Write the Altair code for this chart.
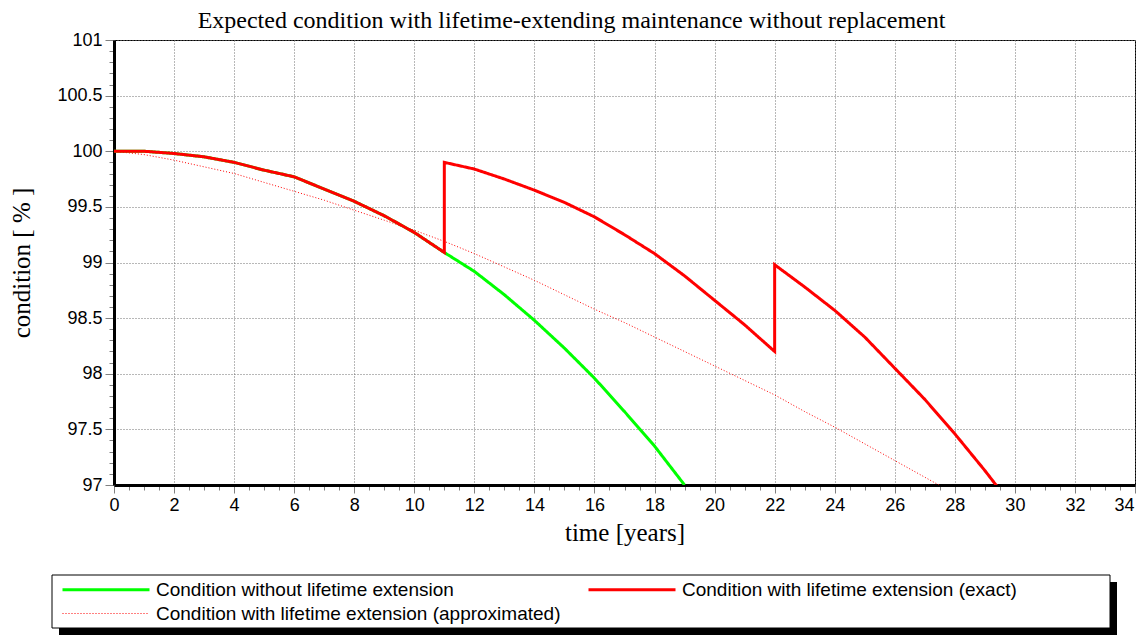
import altair as alt
import pandas as pd

S_WITHOUT = "Condition without lifetime extension"
S_EXACT = "Condition with lifetime extension (exact)"
S_APPROX = "Condition with lifetime extension (approximated)"

years_without = [0, 1, 2, 3, 4, 5, 6, 7, 8, 9, 10, 11, 12, 13, 14, 15, 16, 17, 18, 19]
cond_without = [100.0, 100.0, 99.98, 99.95, 99.90, 99.83, 99.77, 99.66, 99.55, 99.42,
                99.27, 99.09, 98.92, 98.71, 98.48, 98.23, 97.96, 97.66, 97.35, 97.00]

years_exact = [0, 1, 2, 3, 4, 5, 6, 7, 8, 9, 10, 11, 11, 12, 13, 14, 15, 16, 17, 18, 19,
               20, 21, 22, 22, 23, 24, 25, 26, 27, 28, 29, 30]
cond_exact = [100.0, 100.0, 99.98, 99.95, 99.90, 99.83, 99.77, 99.66, 99.55, 99.42, 99.27,
              99.09, 99.90, 99.84, 99.75, 99.65, 99.54, 99.41, 99.25, 99.08, 98.88,
              98.66, 98.44, 98.20, 98.98, 98.78, 98.57, 98.33, 98.05, 97.77, 97.46, 97.13, 96.78]

years_approx = list(range(0, 29))
cond_approx = [100.0, 99.97, 99.92, 99.86, 99.80, 99.72, 99.64, 99.56, 99.47, 99.38,
               99.29, 99.19, 99.08, 98.96, 98.84, 98.71, 98.58, 98.46, 98.33, 98.20,
               98.07, 97.94, 97.81, 97.66, 97.52, 97.37, 97.22, 97.07, 96.92]

x_ticks = [i * 0.5 for i in range(69)]
y_ticks = [round(97 + 0.1 * i, 1) for i in range(41)]

rows = []
for name, xs, ys in [(S_WITHOUT, years_without, cond_without),
                     (S_EXACT, years_exact, cond_exact),
                     (S_APPROX, years_approx, cond_approx)]:
    for i, (a, b) in enumerate(zip(xs, ys)):
        rows.append({"series": name, "t": a, "c": b, "o": i})
df = pd.DataFrame(rows)

# legend order: column 1 = without, approximated; column 2 = exact
series_order = [S_WITHOUT, S_APPROX, S_EXACT]

major_x = "abs(datum.value/2 - round(datum.value/2)) < 0.001"
major_y = "abs(datum.value*2 - round(datum.value*2)) < 0.001"

x_axis = alt.Axis(
    values=x_ticks,
    labelExpr=f"{major_x} ? format(datum.value, '~r') : ''",
    labelOffset={"condition": {"test": "datum.value >= 34", "value": -11}, "value": 0},
    tickSize={"condition": {"test": major_x, "value": 8}, "value": 5},
    gridOpacity={"condition": {"test": major_x, "value": 1}, "value": 0},
    labelOverlap=False, labelFlush=False,
    title="time [years]", titlePadding=6,
)
y_axis = alt.Axis(
    values=y_ticks,
    labelExpr=f"{major_y} ? format(datum.value, '~r') : ''",
    tickSize={"condition": {"test": major_y, "value": 9}, "value": 5},
    gridOpacity={"condition": {"test": major_y, "value": 1}, "value": 0},
    labelOverlap=False,
    title="condition [  %  ]", titlePadding=22,
)

lines = alt.Chart(df).mark_line(clip=True).encode(
    x=alt.X("t:Q", scale=alt.Scale(domain=[0, 34], nice=False, zero=False), axis=x_axis),
    y=alt.Y("c:Q", scale=alt.Scale(domain=[97, 101], nice=False, zero=False), axis=y_axis),
    color=alt.Color("series:N", sort=series_order,
                    scale=alt.Scale(domain=series_order, range=["#00ff00", "#ff0000", "#ff0000"]),
                    legend=alt.Legend(
                        title=None, orient="none", legendX=-53, legendY=540,
                        direction="vertical", columns=2, columnPadding=26,
                        symbolType="stroke", symbolSize=7569, clipHeight=19,
                        labelFont="Liberation Sans", labelFontSize=19, labelColor="black",
                        labelOffset=5, labelLimit=700,
                        padding=0, rowPadding=4)),
    strokeDash=alt.StrokeDash("series:N", sort=series_order,
                              scale=alt.Scale(domain=series_order, range=[[1, 0], [1, 2], [1, 0]])),
    strokeWidth=alt.StrokeWidth("series:N", sort=series_order,
                                scale=alt.Scale(type="ordinal", domain=series_order, range=[3, 1, 3])),
    order="o:Q",
)

deco = pd.DataFrame({"k": [0]})
shadow = alt.Chart(deco).mark_rect(color="black", clip=False).encode(
    x=alt.value(-55), x2=alt.value(1003), y=alt.value(542), y2=alt.value(595)
)
box = alt.Chart(deco).mark_rect(fill="white", stroke="black", strokeWidth=1, clip=False).encode(
    x=alt.value(-62), x2=alt.value(996), y=alt.value(535), y2=alt.value(588)
)

chart = alt.layer(shadow, box, lines).properties(
    width=1021, height=445,
    autosize=alt.AutoSizeParams(type="none"),
    padding={"left": 106, "top": 32, "right": 1, "bottom": 151},
    title=alt.Title(
        "Expected condition with lifetime-extending maintenance without replacement",
        font="Liberation Serif", fontSize=24, fontWeight="normal", color="black",
        anchor="middle", frame="group", dx=-53, offset=-2),
).configure_view(stroke="black", strokeWidth=1).configure_axis(
    domainColor="black", domainWidth=3,
    tickColor="#808080", tickWidth=1,
    gridColor="#707070", gridDash=[1, 2], gridWidth=1,
    labelFont="Liberation Sans", labelFontSize=18, labelColor="black", labelPadding=3,
    titleFont="Liberation Serif", titleFontSize=25, titleFontWeight="normal", titleColor="black",
)

chart.save("out.html", embed_options={"renderer": "svg", "actions": False})
